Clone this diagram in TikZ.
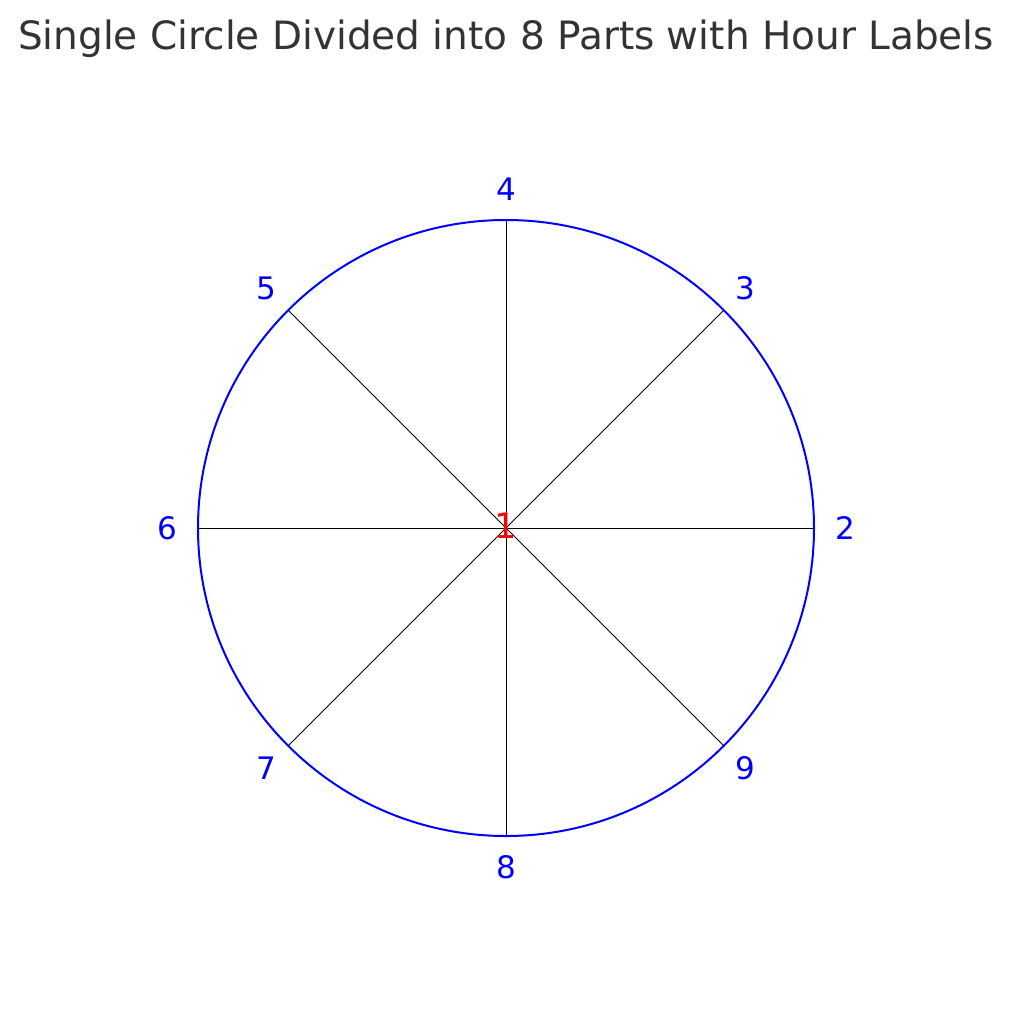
\documentclass[tikz,border=0pt]{standalone}
\usepackage{fontspec}
\setmainfont{DejaVu Sans}
\usetikzlibrary{positioning}
\definecolor{titlecol}{RGB}{51,51,51}
\definecolor{rimcol}{RGB}{0,0,255}
\definecolor{midcol}{RGB}{255,0,0}

\begin{document}
\begin{tikzpicture}[x=1pt,y=1pt,
    rim/.style={draw=rimcol,line width=2pt},
    spoke/.style={draw=black,line width=1pt},
    hourlab/.style={text=rimcol,inner sep=0pt,font=\fontsize{31}{36}\selectfont}]
  \useasboundingbox (-506,-482) rectangle (505,528);
  % centre and rim
  \coordinate (O) at (0,0);
  \foreach \a [evaluate=\a as \h using int(2+\a/45)] in {0,45,...,315} {
    \coordinate (p\h) at (\a:308);
    \draw[spoke] (O) -- (p\h);
    \node[hourlab] (lab\h) at (\a:339) {\h};
  }
  \draw[rim] (O) circle (308);
  \node[text=midcol,inner sep=0pt,font=\fontsize{35}{40}\selectfont] (mid) at (0,2) {1};
  % title
  \node[text=titlecol,anchor=base,inner sep=0pt,font=\fontsize{39}{44}\selectfont]
      (title) at (0,478) {Single Circle Divided into 8 Parts with Hour Labels};
\end{tikzpicture}
\end{document}
